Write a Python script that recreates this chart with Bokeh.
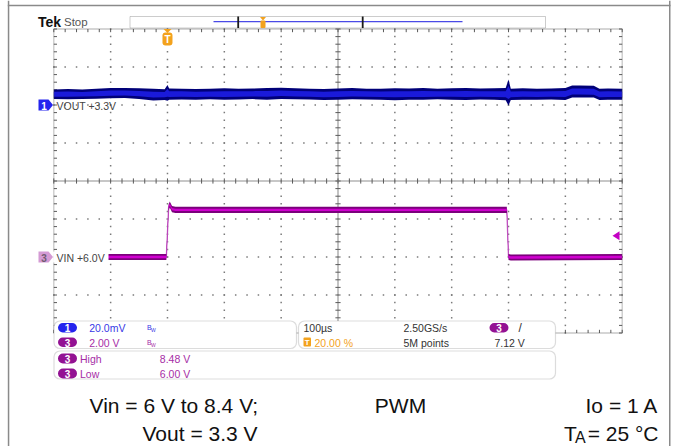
from bokeh.plotting import figure
from bokeh.models import Range1d, BoxAnnotation, Label, PolyAnnotation
from bokeh.embed import file_html
from bokeh.resources import INLINE

# ---------------- data ----------------
# CH1: VOUT ripple envelope, mV relative to the 3.3 V offset
vout_t_us = [-200, -175, -150, -125, -100, -75, -50, -25, -5, 0, 3,
             25, 50, 75, 100, 125, 150, 175, 200, 225, 250,
             275, 300, 325, 350, 375, 400, 425, 450, 475, 500,
             525, 550, 575, 595, 600, 604,
             625, 650, 675, 700, 712, 725, 750, 760, 775, 800]
vout_hi_mv = [8.2, 8.4, 8.1, 8.6, 8.9, 9.0, 8.8, 8.5, 8.3, 10.5, 8.7,
              8.6, 8.4, 8.5, 8.8, 8.6, 8.7, 8.9, 9.1, 8.8, 8.6,
              8.4, 8.7, 8.9, 8.6, 8.5, 8.8, 8.7, 8.9, 8.6, 8.8,
              8.9, 8.7, 8.8, 8.9, 13.4, 8.6,
              8.8, 8.6, 8.7, 8.9, 10.2, 10.3, 10.1, 8.6, 8.7, 8.6]
vout_lo_mv = [3.1, 3.0, 3.2, 3.3, 3.6, 3.7, 3.2, 2.4, 2.6, 2.3, 2.8,
              2.9, 2.8, 3.0, 2.7, 2.9, 3.1, 2.8, 3.2, 3.0, 2.9,
              2.6, 2.8, 3.0, 2.9, 2.7, 2.5, 2.8, 2.7, 3.0, 2.8,
              2.6, 2.9, 2.7, 2.5, -0.3, 2.6,
              2.8, 2.7, 2.9, 2.6, 3.9, 4.0, 3.9, 2.6, 2.8, 2.7]

# CH3: VIN step, volts
vin_t_us = [-200, -2, 2, 4, 8, 14, 597, 600, 604, 800]
vin_v = [6.00, 6.00, 8.60, 8.76, 8.52, 8.48, 8.48, 6.00, 5.97, 6.00]

# scope settings
ch1_label = "VOUT +3.3V"
ch1_scale_mv = 20.0
ch1_pos_div = 2.0
ch3_label = "VIN +6.0V"
ch3_scale_v = 2.0
ch3_pos_div = -2.0
ch3_ref_v = 6.0
time_per_div_us = 100.0
trig_pos_us = 0.0
trig_level_v = 7.12
meas_high_v = 8.48
meas_low_v = 6.00

row1_texts = ["20.0mV", "100µs", "2.50GS/s"]
row2_texts = ["2.00 V", "20.00 %", "5M points"]
cond_left = ["Vin = 6 V to 8.4 V;", "Vout = 3.3 V"]
cond_mid = "PWM"
cond_right = ["Io = 1 A", "= 25 °C"]

# ---------------- geometry ----------------
W, H = 676, 446
PX_US = 568.4 / (10 * time_per_div_us)
PX_DIV = 38.0
GL = trig_pos_us - 2 * time_per_div_us
GR = trig_pos_us + 8 * time_per_div_us
X_START = GL - 53.3 / PX_US
X_END = X_START + W / PX_US
Y_END = 180.5 / PX_DIV
Y_START = Y_END - H / PX_DIV


def fx(ix):
    return X_START + ix / PX_US


def fy(iy):
    return Y_END - iy / PX_DIV


def px_of_t(t):
    return (t - X_START) * PX_US


def py_of_div(d):
    return (Y_END - d) * PX_DIV


SCOPE = "Liberation Sans"
SANS = "Liberation Sans"
BLUE = "#2424EE"
PURPLE = "#931293"
PURPLE_TXT = "#A62DA6"
ORANGE = "#F3A21D"
DARK = "#333333"
FS = 10.5

p = figure(width=W, height=H, x_range=Range1d(X_START, X_END),
           y_range=Range1d(Y_START, Y_END), x_axis_type=None, y_axis_type=None,
           toolbar_location=None, output_backend="svg", min_border=0)
p.outline_line_color = None
p.background_fill_color = "white"
p.border_fill_color = "white"

# ---------------- graticule ----------------
dot_x, dot_y = [], []
for k in range(1, 10):
    if k == 5:
        continue
    for j in range(41):
        dot_x.append(GL + k * time_per_div_us)
        dot_y.append(-4 + 0.2 * j)
for r in range(1, 8):
    if r == 4:
        continue
    for j in range(51):
        dot_x.append(GL + 20 * j)
        dot_y.append(-4 + r)
p.scatter(dot_x, dot_y, marker="square", size=1.5, fill_color="#7a7a7a",
          line_color=None)

cx = GL + 5 * time_per_div_us
p.segment(x0=[cx, GL], y0=[-4, 0], x1=[cx, GR], y1=[4, 0],
          line_color="#b4b4b4", line_width=1.6)

tx = 2.6 / PX_US
ty = 2.6 / PX_DIV
ex = 3.2 / PX_US
ey = 3.2 / PX_DIV
sx0, sy0, sx1, sy1 = [], [], [], []
for j in range(41):
    yy = -4 + 0.2 * j
    sx0 += [cx - tx, GL, GR]
    sx1 += [cx + tx, GL + ex, GR - ex]
    sy0 += [yy, yy, yy]
    sy1 += [yy, yy, yy]
for j in range(51):
    xx = GL + 20 * j
    sx0 += [xx, xx, xx]
    sx1 += [xx, xx, xx]
    sy0 += [-ty, 4, -4]
    sy1 += [ty, 4 - ey, -4 + ey]
p.segment(x0=sx0, y0=sy0, x1=sx1, y1=sy1, line_color="#5a5a5a", line_width=1)

# ---------------- traces ----------------
vin_div = [ch3_pos_div + (v - ch3_ref_v) / ch3_scale_v for v in vin_v]
half_o = 0.16 / ch3_scale_v
half_i = 0.065 / ch3_scale_v
p.line(vin_t_us, vin_div, line_color="#D070D0", line_width=1.4)
p.varea(x=vin_t_us, y1=[d - half_o for d in vin_div], y2=[d + half_o for d in vin_div],
        fill_color="#7C007C")
p.varea(x=vin_t_us, y1=[d - half_i for d in vin_div], y2=[d + half_i for d in vin_div],
        fill_color="#D000D0")

hi_div = [ch1_pos_div + v / ch1_scale_mv for v in vout_hi_mv]
lo_div = [ch1_pos_div + v / ch1_scale_mv for v in vout_lo_mv]
mid = [(a + b) / 2 for a, b in zip(hi_div, lo_div)]
hw = [(a - b) / 2 for a, b in zip(hi_div, lo_div)]
p.varea(x=vout_t_us, y1=lo_div, y2=hi_div, fill_color="#000078")
p.varea(x=vout_t_us, y1=[m - 0.5 * h for m, h in zip(mid, hw)],
        y2=[m + 0.5 * h for m, h in zip(mid, hw)], fill_color="#1A1ADA")

# ---------------- annotations ----------------
def box(l, r, t, b, fill=None, line=None, radius=0, lw=1.0):
    bx = BoxAnnotation(left=fx(l), right=fx(r), top=fy(t), bottom=fy(b),
                       fill_color=fill, fill_alpha=1.0 if fill else 0.0,
                       line_color=line, line_width=lw, border_radius=int(radius))
    p.add_layout(bx)
    return bx


def lab(ix, iy, text, color=DARK, size=FS, font=SCOPE, style="normal",
        align="left", baseline="alphabetic"):
    # iy is the alphabetic baseline (px); place by the text's middle
    if baseline == "alphabetic":
        iy = iy - 0.35 * size
    lb = Label(x=fx(ix), y=fy(iy), text=text, text_color=color,
               text_font_size=f"{size}px", text_font=font, text_font_style=style,
               text_align=align, text_baseline="middle")
    p.add_layout(lb)
    return lb


def poly(xs_px, ys_px, color):
    p.add_layout(PolyAnnotation(xs=[fx(v) for v in xs_px], ys=[fy(v) for v in ys_px],
                                fill_color=color, fill_alpha=1.0, line_color=None))


# outer page frame lines
box(7.3, 8.8, 0, 446, fill="#8a8a8a")
box(7.3, 670, 4.3, 5.7, fill="#8a8a8a")
box(668.5, 670, 0, 446, fill="#8a8a8a")

# graticule frame
p.add_layout(BoxAnnotation(left=GL, right=GR, top=4, bottom=-4, fill_alpha=0.0,
                           line_color="#4a4a4a", line_width=1.3))

# header
lab(37.5, 26, "Tek", color="#111111", size=14, font=SANS, style="bold")
lab(63.5, 26, "Stop", color="#555555", size=11.5)
box(129.5, 545, 16, 27.5, fill="white", line="#555555", lw=1.0)
box(213, 462, 20.6, 21.8, fill="#4a4ae6")
box(236.8, 238.6, 16, 27.5, fill="#1a1a1a")
box(361.3, 363.1, 16, 27.5, fill="#1a1a1a")
box(260, 265, 20, 27.5, fill=ORANGE, radius=1)
poly([259.5, 265.5, 262.5], [16.5, 16.5, 20], ORANGE)

# trigger position marker
tpx = px_of_t(trig_pos_us)
poly([tpx - 4, tpx + 4, tpx], [28.6, 28.6, 32.5], ORANGE)
box(tpx - 5, tpx + 5, 32, 45, fill=ORANGE, radius=3)
lab(tpx, 39, "T", color="white", size=10, font=SANS, style="bold",
    align="center", baseline="middle")

# trigger level marker (right edge)
lvl_px = py_of_div(ch3_pos_div + (trig_level_v - ch3_ref_v) / ch3_scale_v)
poly([612, 619, 619], [lvl_px, lvl_px - 4.5, lvl_px + 4.5], "#C400C4")

# channel tags
c1_px = py_of_div(ch1_pos_div)
c3_px = py_of_div(ch3_pos_div)
poly([38, 48, 52.5, 48, 38], [c1_px - 5.5, c1_px - 5.5, c1_px, c1_px + 5.5, c1_px + 5.5], BLUE)
lab(43.5, c1_px + 0.5, "1", color="white", size=10, font=SANS, style="bold",
    align="center", baseline="middle")
lab(56, c1_px + 0.5, ch1_label, color="#444444", size=10.5, baseline="middle")

box(52.6, 108, c3_px - 5.5, c3_px + 5.5, fill="white")
poly([38, 48, 52.5, 48, 38], [c3_px - 5.5, c3_px - 5.5, c3_px, c3_px + 5.5, c3_px + 5.5], "#D49AD4")
lab(43.5, c3_px + 0.5, "3", color="#6f5a6f", size=10, font=SANS, style="bold",
    align="center", baseline="middle")
lab(56, c3_px + 0.5, ch3_label, color="#444444", size=10.5, baseline="middle")

# info boxes
box(53.5, 296, 320.5, 348, fill="white", line="#8a8a8a", radius=6, lw=1.2)
box(298, 555, 320.5, 348, fill="white", line="#8a8a8a", radius=6, lw=1.2)
box(53.5, 555, 350.5, 378.5, fill="white", line="#8a8a8a", radius=6, lw=1.2)


def pill(l, r, t, b, color, txt):
    box(l, r, t, b, fill=color, radius=5)
    lab((l + r) / 2, (t + b) / 2 + 0.4, txt, color="white", size=10, font=SANS,
        style="bold", align="center", baseline="middle")


pill(57.5, 76.5, 322.5, 332, BLUE, "1")
pill(57.5, 76.5, 337, 346.5, PURPLE, "3")
pill(57.5, 76.5, 353, 363, PURPLE, "3")
pill(57.5, 76.5, 368, 378, PURPLE, "3")
pill(489, 508, 322.5, 332, PURPLE, "3")

lab(88.7, 331.5, row1_texts[0], color="#3838E6")
lab(88.7, 346.5, row2_texts[0], color=PURPLE_TXT)
for yb, col in ((331.5, "#3838E6"), (346.5, PURPLE_TXT)):
    lab(146.5, yb - 2, "B", color=col, size=7, font=SANS)
    lab(150.6, yb, "W", color=col, size=5, font=SANS)

lab(303, 331.5, row1_texts[1], color=DARK)
lab(403, 331.5, row1_texts[2], color=DARK)
lab(518, 331.5, "/", color=DARK, size=12, font=SANS)
box(303, 310.5, 337, 346, fill=ORANGE, radius=1)
lab(306.75, 341.8, "T", color="white", size=8, font=SANS, style="bold",
    align="center", baseline="middle")
lab(314, 346.5, row2_texts[1], color=ORANGE)
lab(403, 346.5, row2_texts[2], color=DARK)
lab(494, 346.5, f"{trig_level_v:.2f} V", color=DARK)

lab(79.5, 362.5, "High", color=PURPLE_TXT)
lab(159.3, 362.5, f"{meas_high_v:.2f} V", color=PURPLE_TXT)
lab(79.5, 377.5, "Low", color=PURPLE_TXT)
lab(159.3, 377.5, f"{meas_low_v:.2f} V", color=PURPLE_TXT)

# test conditions
lab(89, 412, cond_left[0], color="#111111", size=21, font=SANS)
lab(400, 412, cond_mid, color="#111111", size=21, font=SANS, align="center")
lab(658, 412, cond_right[0], color="#111111", size=21, font=SANS, align="right")
lab(142, 440, cond_left[1], color="#111111", size=21, font=SANS)
lab(658, 440, cond_right[1], color="#111111", size=21, font=SANS, align="right")
lab(563.5, 440, "T", color="#111111", size=21, font=SANS)
lab(574.5, 442.6, "A", color="#111111", size=16, font=SANS)

open("out.html", "w").write(file_html(p, INLINE))
